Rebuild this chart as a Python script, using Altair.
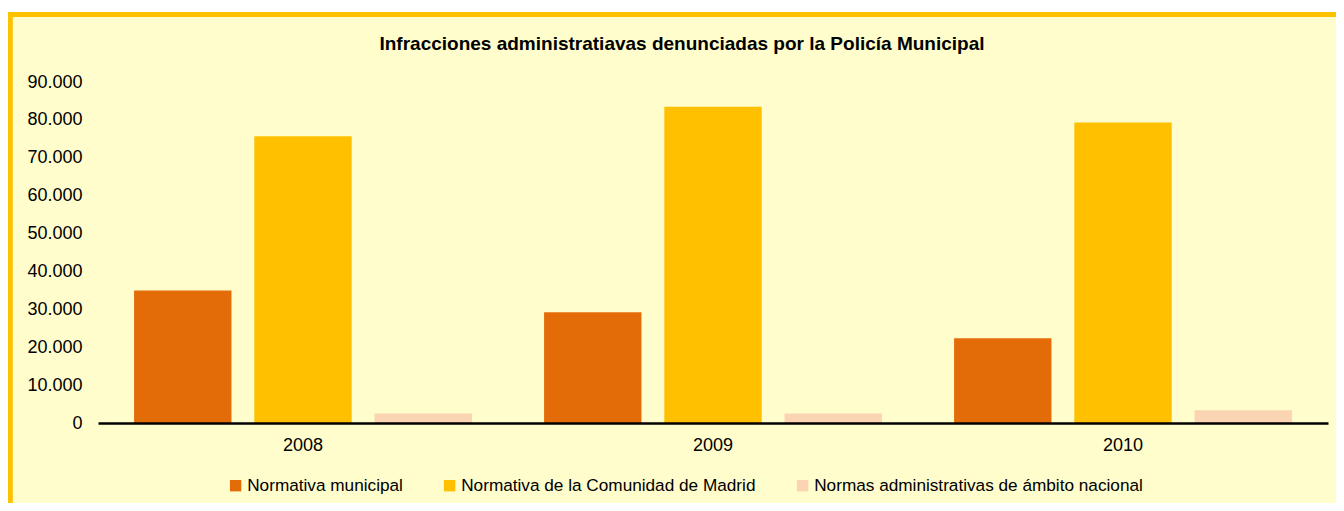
import altair as alt
import pandas as pd

years = ["2008", "2009", "2010"]
series = [
    "Normativa municipal",
    "Normativa de la Comunidad de Madrid",
    "Normas administrativas de ámbito nacional",
]
municipal = [35000, 29200, 22350]
comunidad = [75700, 83500, 79300]
nacional = [2500, 2500, 3350]
colors = ["#E36C09", "#FFC000", "#FBD4B4"]
y_ticks = [0, 10000, 20000, 30000, 40000, 50000, 60000, 70000, 80000, 90000]
title_text = "Infracciones administratiavas denunciadas por la Policía Municipal"

rows = []
for i, yr in enumerate(years):
    for s, vals in zip(series, [municipal, comunidad, nacional]):
        rows.append({"year": yr, "serie": s, "value": vals[i]})
df = pd.DataFrame(rows)

FONT = "Liberation Sans"

frame = alt.Chart(alt.Data(values=[{}])).mark_rect(
    fill="#FFFDCC", stroke="#FFC000", strokeWidth=4.8
).encode(
    x=alt.value(-87.6), x2=alt.value(1400),
    y=alt.value(-67.5), y2=alt.value(700),
)

bars = alt.Chart(df).mark_bar().encode(
    x=alt.X("year:N", sort=years,
            scale=alt.Scale(paddingInner=0, paddingOuter=0),
            axis=alt.Axis(title=None, labelAngle=0, ticks=False, domainColor="#000000",
                          domainWidth=2.3, labelFont=FONT, labelFontSize=18,
                          labelColor="#000000", labelPadding=13, zindex=2)),
    xOffset=alt.XOffset("serie:N", sort=series,
                        scale=alt.Scale(paddingInner=0.19, paddingOuter=0.3)),
    y=alt.Y("value:Q", scale=alt.Scale(domain=[0, 90000], nice=False),
            axis=alt.Axis(title=None, values=y_ticks, grid=False, domain=False, ticks=False,
                          labelFont=FONT, labelFontSize=18, labelColor="#000000",
                          labelPadding=16, zindex=2,
                          labelExpr="replace(format(datum.value, ','), ',', '.')")),
    color=alt.Color("serie:N", sort=series,
                    scale=alt.Scale(domain=series, range=colors),
                    legend=alt.Legend(title=None, orient="none", legendX=129, legendY=395,
                                      direction="horizontal", columns=3,
                                      symbolType="square", symbolSize=130,
                                      symbolStrokeWidth=0, labelFont=FONT,
                                      labelFontSize=17.2, labelColor="#000000",
                                      labelOffset=3, columnPadding=38,
                                      labelLimit=500, zindex=2)),
)

title = alt.Chart(alt.Data(values=[{"t": title_text}])).mark_text(
    font=FONT, fontSize=19, fontWeight="bold", color="#000000",
    align="center", baseline="middle"
).encode(
    x=alt.value(584), y=alt.value(-38), text="t:N"
)

chart = alt.layer(frame, bars, title).properties(
    width=1230, height=341,
    autosize=alt.AutoSizeParams(type="none"),
    padding={"left": 90, "top": 74, "right": 8, "bottom": 80},
    background="#FFFFFF",
).configure_view(stroke=None)

chart.save("out.html", embed_options={"renderer": "svg", "actions": False})
